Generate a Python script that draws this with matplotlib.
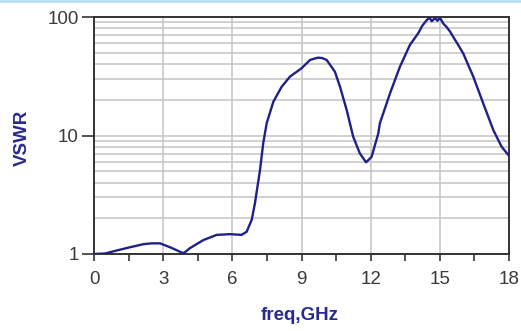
import matplotlib
matplotlib.use("Agg")
import matplotlib.pyplot as plt
from matplotlib.ticker import FixedLocator, NullFormatter
from matplotlib.lines import Line2D

# values
freq = [0.0, 0.48, 0.98, 1.56, 2.14, 2.5, 2.86, 3.3, 3.8, 3.9, 4.16, 4.74, 5.32, 5.9, 6.4, 6.62,
        6.84, 6.98, 7.2, 7.34, 7.49, 7.78, 8.14, 8.5, 9.0, 9.37, 9.55, 9.73, 9.9, 10.09, 10.45,
        10.67, 10.96, 11.24, 11.53, 11.8, 12.04, 12.33, 12.4, 12.84, 13.27, 13.7, 14.06, 14.25,
        14.43, 14.55, 14.65, 14.79, 14.9, 15.0, 15.15, 15.3, 15.45, 15.58, 15.8, 16.02, 16.45,
        16.88, 17.32, 17.68, 17.97]
vswr = [1.0, 1.01, 1.07, 1.14, 1.21, 1.23, 1.23, 1.14, 1.03, 1.02, 1.12, 1.31, 1.45, 1.47, 1.45,
        1.54, 1.94, 2.68, 5.1, 8.6, 12.7, 19.3, 25.8, 31.4, 36.9, 43.4, 44.5, 45.4, 45.0, 43.4,
        34.5, 25.8, 16.4, 9.8, 7.07, 5.94, 6.6, 10.4, 12.7, 22.7, 38.1, 58.0, 72.8, 85.0,
        94.0, 99.0, 92.0, 98.0, 93.0, 99.0, 88.0, 82.0, 75.0, 68.0, 58.0, 49.0, 31.4,
        18.7, 11.1, 8.04, 6.85]

x_ticks = [0, 3, 6, 9, 12, 15, 18]
x_minor = [1.5, 4.5, 7.5, 10.5, 13.5, 16.5]
y_ticks = [1, 10, 100]
y_labels = ["1", "10", "100"]

navy = "#202088"
blue_text = "#2a2a8e"

plt.rcParams['font.family'] = ['Liberation Sans', 'DejaVu Sans']

fig = plt.figure(figsize=(5.21, 3.31), dpi=100)
ax = fig.add_axes([94 / 521, 1 - 254 / 331, 415 / 521, 237 / 331])

ax.plot(freq, vswr, color=navy, linewidth=1.7, zorder=3)

ax.set_yscale("log")
ax.set_xlim(0, 18)
ax.set_ylim(1, 100)

ax.set_xticks(x_ticks)
ax.set_xticklabels([str(t) for t in x_ticks])
ax.xaxis.set_minor_locator(FixedLocator(x_minor))
ax.set_yticks(y_ticks)
ax.set_yticklabels(y_labels)
minor_y = [m * d for d in (1, 10) for m in range(2, 10)]
ax.yaxis.set_minor_locator(FixedLocator(minor_y))
ax.yaxis.set_minor_formatter(NullFormatter())

ax.grid(True, which="major", axis="x", color="#c8c8c8", linewidth=1.2)
ax.grid(True, which="both", axis="y", color="#c8c8c8", linewidth=1.2)
ax.set_axisbelow(True)

for s in ax.spines.values():
    s.set_color("#333333")
    s.set_linewidth(1.4)

ax.tick_params(axis="x", which="major", length=5, width=1.2, color="#333333",
               labelsize=13.5, labelcolor="#3a3a3a", pad=7)
ax.tick_params(axis="x", which="minor", length=5, width=1.2, color="#333333")
ax.tick_params(axis="y", which="major", length=9, width=1.2, color="#333333",
               labelsize=13.5, labelcolor="#3a3a3a", pad=2)
ax.tick_params(axis="y", which="minor", length=0)

fig.text(300 / 521, 1 - 315 / 331, "freq,GHz", fontsize=13.5, fontweight="bold",
         color=blue_text, ha="center", va="center")
fig.text(22 / 521, 1 - 138 / 331, "VSWR", fontsize=13.5, fontweight="bold",
         color=blue_text, ha="center", va="center", rotation=90)

# light blue line along the top edge
fig.add_artist(Line2D([0, 1], [0.997, 0.997], transform=fig.transFigure,
                      color="#b8def2", linewidth=2))

fig.savefig("out.png", dpi=100)
